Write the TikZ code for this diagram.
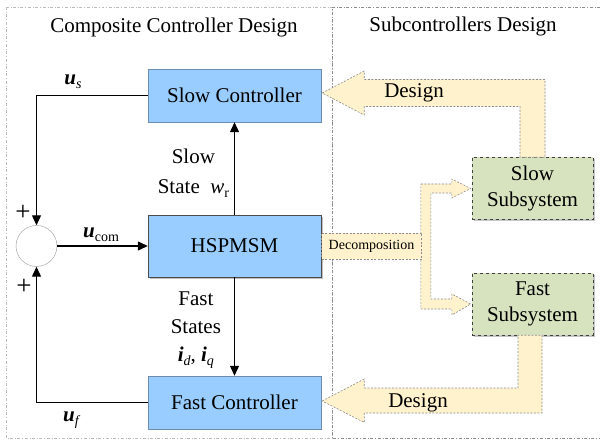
\documentclass[tikz,border=0pt]{standalone}
\usepackage{fontspec}
\setmainfont{LiberationSerif}[Extension=.ttf, UprightFont=*-Regular, BoldFont=*-Bold,
  ItalicFont=*-Italic, BoldItalicFont=*-BoldItalic]
\usetikzlibrary{arrows.meta, calc, positioning, shadows}
\definecolor{ctrlblue}  {RGB}{153, 204, 255}
\definecolor{ctrledge}  {RGB}{110, 140, 175}
\definecolor{subgreen}  {RGB}{215, 227, 191}
\definecolor{designyel} {RGB}{255, 242, 204}
\definecolor{framegray} {RGB}{140, 140, 140}
\newcommand{\lowsub}[1]{\raisebox{-0.4ex}{\fontsize{14bp}{14bp}\selectfont #1}}

\begin{document}
\begin{tikzpicture}[x=1bp, y=-1bp, font=\fontsize{21bp}{26bp}\selectfont,
  ctrlbox/.style={draw=ctrledge, fill=ctrlblue, minimum width=173bp, minimum height=53bp, inner sep=0pt},
  subbox/.style={draw=black!75, dashed, fill=subgreen, minimum width=121bp, minimum height=62bp,
    inner sep=0pt, align=center, drop shadow={shadow xshift=2bp, shadow yshift=-2bp, opacity=0.45}},
  fatarrow/.style={draw=black!45, dash pattern=on 2bp off 1.5bp, line width=0.6bp, fill=designyel},
  sig/.style={line width=1.2bp, -{Triangle[length=10bp, width=9bp]}},
  plus/.style={font=\fontsize{27bp}{27bp}\selectfont, inner sep=0pt}]
  \useasboundingbox (0,0) rectangle (600,443);
  % frames
  \draw[framegray!60, dash dot] (6,7) rectangle (332,438);
  \draw[framegray, dash dot] (600,7) -- (332,7) -- (332,438) -- (600,438);
  \node (lefttitle)  at (174,27) {Composite Controller Design};
  \node (righttitle) at (463,26) {Subcontrollers Design};
  % blocks
  \node[ctrlbox] (slowctrl) at (234.5,95.5) {Slow Controller};
  \node[ctrlbox, draw=black!70, minimum height=62bp,
    drop shadow={shadow xshift=2bp, shadow yshift=-2bp, opacity=0.5}] (plant) at (234.5,246) {HSPMSM};
  \node[ctrlbox] (fastctrl) at (234.5,402.5) {Fast Controller};
  \node[circle, draw=black!40, fill=white, minimum size=41bp, inner sep=0pt] (sum) at (36.5,246) {};
  \node[subbox] (slowsub) at (532.5,188.5) {Slow\\Subsystem};
  \node[subbox] (fastsub) at (532.5,304) {Fast\\Subsystem};
  % signals
  \draw[sig] (slowctrl.west) -| (sum.north);
  \draw[sig] (fastctrl.west) -| (sum.south);
  \draw[sig] (sum.east) -- (plant.west);
  \draw[sig] (plant.north) -- (slowctrl.south);
  \draw[sig] (plant.south) -- (fastctrl.north);
  \node[plus] (plustop) at (23,213) {+};
  \node[plus] (plusbot) at (24,287) {+};
  \node (us)   at (73,82)   {{\bfseries\itshape u}\lowsub{\itshape s}};
  \node (uf)   at (71,420)  {{\bfseries\itshape u}\lowsub{\itshape f}};
  \node (ucom) at (101,235) {{\bfseries\itshape u}\lowsub{com}};
  \node[align=center, left=2bp, font=\fontsize{21bp}{30bp}\selectfont] (slowlbl)
    at ($(plant.north)!0.45!(slowctrl.south)$) {Slow\\State~~{\itshape w}\lowsub{r}};
  \node[align=center, left=10bp, font=\fontsize{21bp}{28bp}\selectfont] (fastlbl)
    at ($(plant.south)!0.54!(fastctrl.north)$)
    {Fast\\States\\{\bfseries\itshape i}\lowsub{\itshape d}, {\bfseries\itshape i}\lowsub{\itshape q}};
  % design arrows
  \draw[fatarrow] ($(slowctrl.east)+(1,-2.5)$) -- ++(42,-22) -- ++(0,8.5)
    -| ($(slowsub.north)+(12.5,0)$) -- ++(-25,0) |- ($(slowctrl.east)+(43,11)$) -- ++(0,8.5) -- cycle;
  \node (design1) at (414,93) {Design};
  \draw[fatarrow] ($(fastctrl.east)+(1,-1.5)$) -- ++(42,-22) -- ++(0,9)
    -| ($(fastsub.south)+(-14.5,0)$) -- ++(24,0) |- ($(fastctrl.east)+(43,10.5)$) -- ++(0,9.5) -- cycle;
  \node (design2) at (418,403) {Design};
  % decomposition
  \draw[fatarrow] ($(slowsub.west)+(-51,-4.5)$) -- ++(31,0) -- ++(0,-5) -- ($(slowsub.west)+(-1,0)$)
    -- ++(-19,9.5) -- ++(0,-5) -- ++(-21,0) |- ($(fastsub.west)+(-20,-5)$) -- ++(0,-5)
    -- ($(fastsub.west)+(-1,0)$) -- ++(-19,11) -- ++(0,-6) -- ++(-31,0) -- cycle;
  \node[fatarrow, anchor=west, minimum width=100bp, minimum height=26bp, inner sep=0pt,
    font=\fontsize{14bp}{16bp}\selectfont] (decomp) at (plant.east) {Decomposition};
\end{tikzpicture}
\end{document}
